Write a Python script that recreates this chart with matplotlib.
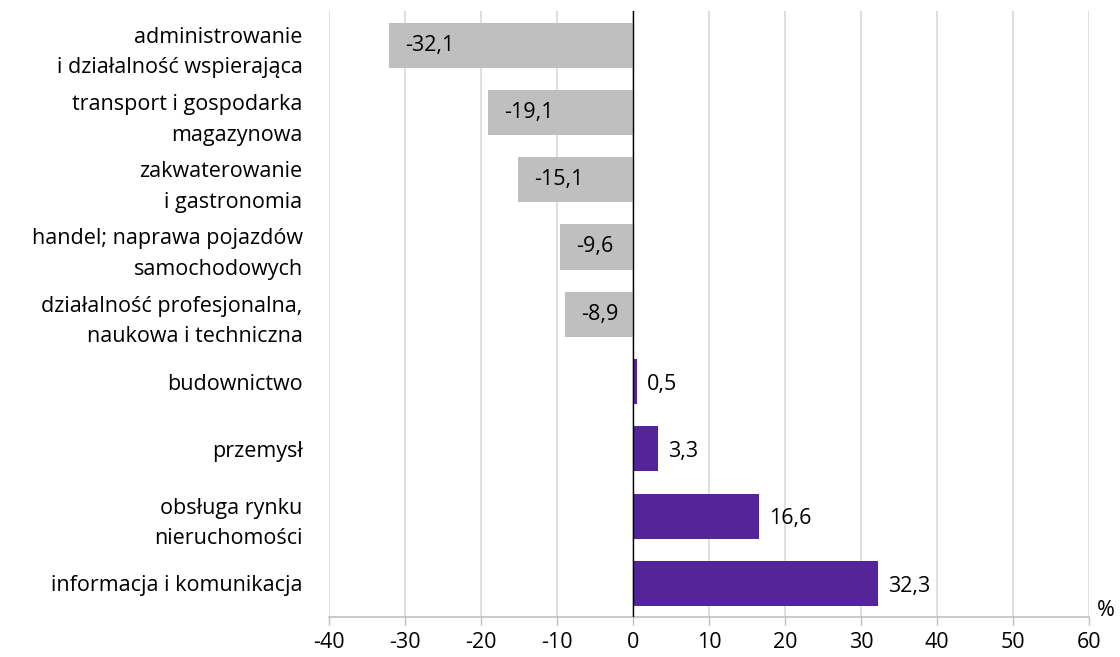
import matplotlib
matplotlib.use("Agg")
import matplotlib.pyplot as plt

categories = [
    "administrowanie\ni działalność wspierająca",
    "transport i gospodarka\nmagazynowa",
    "zakwaterowanie\ni gastronomia",
    "handel; naprawa pojazdów\nsamochodowych",
    "działalność profesjonalna,\nnaukowa i techniczna",
    "budownictwo",
    "przemysł",
    "obsługa rynku\nnieruchomości",
    "informacja i komunikacja",
]
values = [-32.1, -19.1, -15.1, -9.6, -8.9, 0.5, 3.3, 16.6, 32.3]
xticks = [-40, -30, -20, -10, 0, 10, 20, 30, 40, 50, 60]

plt.rcParams['font.family'] = ['Open Sans', 'DejaVu Sans']
FS = 15.5

fig = plt.figure(figsize=(11.2, 6.57), dpi=100)
ax = fig.add_axes([0.2937, 0.0609, 0.6786, 0.9216])

gray = "#BFBFBF"
purple = "#54249A"
ypos = list(range(len(categories)))
colors = [gray if v < 0 else purple for v in values]
ax.barh(ypos, values, height=0.67, color=colors, zorder=3)

for y, v in zip(ypos, values):
    lab = f"{v:.1f}".replace(".", ",")
    if v < 0:
        ax.annotate(lab, (v, y), xytext=(11.5, 0), textcoords="offset points",
                    ha="left", va="center", fontsize=FS, color="#000000", zorder=4)
    else:
        ax.annotate(lab, (v, y), xytext=(7, -2), textcoords="offset points",
                    ha="left", va="center", fontsize=FS, color="#000000", zorder=4)

ax.set_ylim(len(categories) - 0.5, -0.5)
ax.set_xlim(-40, 60)
ax.set_yticks(ypos)
ax.set_yticklabels(categories, fontsize=FS, ha="right", multialignment="right", linespacing=1.6)
ax.tick_params(axis="y", length=0, pad=19)
ax.set_xticks(xticks)
ax.set_xticklabels([str(t) for t in xticks], fontsize=FS)
ax.tick_params(axis="x", length=6, color="#BFBFBF", width=1, pad=5)

ax.grid(axis="x", color="#D9D9D9", linewidth=1.2, zorder=0)
ax.axvline(0, color="#000000", linewidth=1, zorder=5)
for s in ["top", "right", "left"]:
    ax.spines[s].set_visible(False)
ax.spines["bottom"].set_color("#BFBFBF")
ax.spines["bottom"].set_linewidth(1.2)

ax.annotate("%", (1.0, 0.0), xycoords="axes fraction",
            xytext=(6, -3), textcoords="offset points", ha="left", va="bottom", fontsize=FS)

fig.savefig("out.png", dpi=100)
